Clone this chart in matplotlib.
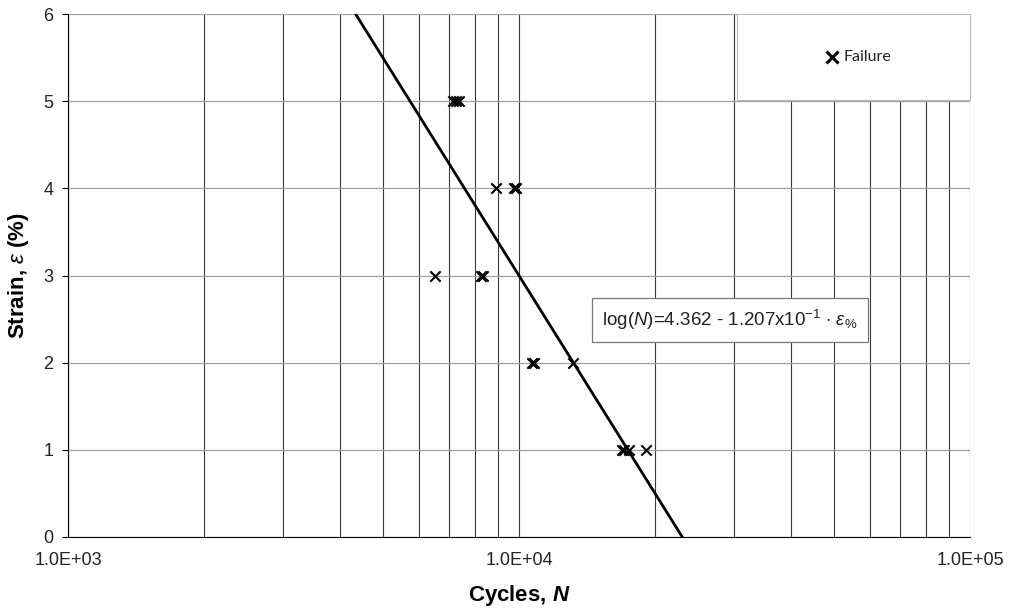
import numpy as np
import matplotlib.pyplot as plt
from matplotlib.patches import Rectangle

plt.rcParams['font.family'] = ['Liberation Sans', 'DejaVu Sans']
plt.rcParams['mathtext.fontset'] = 'custom'
plt.rcParams['mathtext.rm'] = 'Liberation Sans'
plt.rcParams['mathtext.it'] = 'Liberation Sans:italic'
plt.rcParams['mathtext.bf'] = 'Liberation Sans:bold:italic'

# fatigue test results: strain level (%) vs cycles to failure
strain = [5, 5, 5, 4, 4, 4, 3, 3, 3, 2, 2, 2, 1, 1, 1, 1]
cycles = [7150, 7250, 7350, 8900, 9750, 9850, 6500, 8250, 8330,
          10700, 10800, 13200, 16900, 17100, 17500, 19100]

# fitted relation log(N) = a - b * strain
fit_a = 4.362
fit_b = 1.207e-1

fig = plt.figure(figsize=(10.12, 6.13), dpi=100)
ax = fig.add_axes([0.0672, 0.124, 0.8913, 0.853])

ax.set_xscale('log')
ax.set_xlim(1e3, 1e5)
ax.set_ylim(0, 6)

# grid at every minor decade step, horizontal lines lighter
ax.xaxis.grid(True, which='both', color='#3a3a3a', linewidth=0.8)
ax.yaxis.grid(True, which='major', color='#a0a0a0', linewidth=0.9)
ax.set_axisbelow(True)

eps = np.linspace(0, 6, 50)
ax.plot(10 ** (fit_a - fit_b * eps), eps, color='black', linewidth=2.0, zorder=3)

ax.scatter(cycles, strain, marker='x', s=55, color='black', linewidths=1.5, zorder=4)

ax.set_xticks([1e3, 1e4, 1e5])
ax.set_xticklabels(['1.0E+03', '1.0E+04', '1.0E+05'])
ax.xaxis.set_minor_formatter(plt.NullFormatter())
ax.tick_params(axis='x', which='both', length=0, pad=11, labelsize=13)
ax.tick_params(axis='y', length=4.5, direction='out', labelsize=13, pad=6)
ax.set_yticks(range(0, 7))
for lab in ax.get_xticklabels() + ax.get_yticklabels():
    lab.set_color('#222222')

for side in ['top', 'right']:
    ax.spines[side].set_visible(False)

ax.set_xlabel('Cycles, $\\mathbf{N}$', fontsize=16, fontweight='bold', va='center')
ax.xaxis.set_label_coords(0.5, -0.1128)
ax.set_ylabel('Strain, $\\varepsilon$ (%)', fontsize=16, fontweight='bold', va='center')
ax.yaxis.set_label_coords(-0.0554, 0.5)

# legend panel in upper right, drawn over the grid
ax.add_patch(Rectangle((0.7417, 0.8356), 0.2583, 0.1644, transform=ax.transAxes,
                       facecolor='white', edgecolor='#b8b8b8', linewidth=0.8,
                       zorder=5, clip_on=False))
ax.plot([0.847], [0.918], marker='x', color='black', markersize=8,
        markeredgewidth=2.2, transform=ax.transAxes, zorder=6, clip_on=False)
ax.text(0.860, 0.918, 'Failure', transform=ax.transAxes, ha='left', va='center',
        fontsize=11.5, family='Lato', color='#222222', zorder=6)

ax.text(0.734, 0.415, 'log($\\mathit{N}$)=4.362 - 1.207x10$^{-1}$ $\\cdot$ $\\mathit{\\varepsilon}_{\\%}$',
        transform=ax.transAxes, ha='center', va='center', fontsize=13.5,
        color='#222222', zorder=6,
        bbox=dict(boxstyle='square,pad=0.55', facecolor='white',
                  edgecolor='#777777', linewidth=0.9))

fig.savefig('out.png', dpi=100)
